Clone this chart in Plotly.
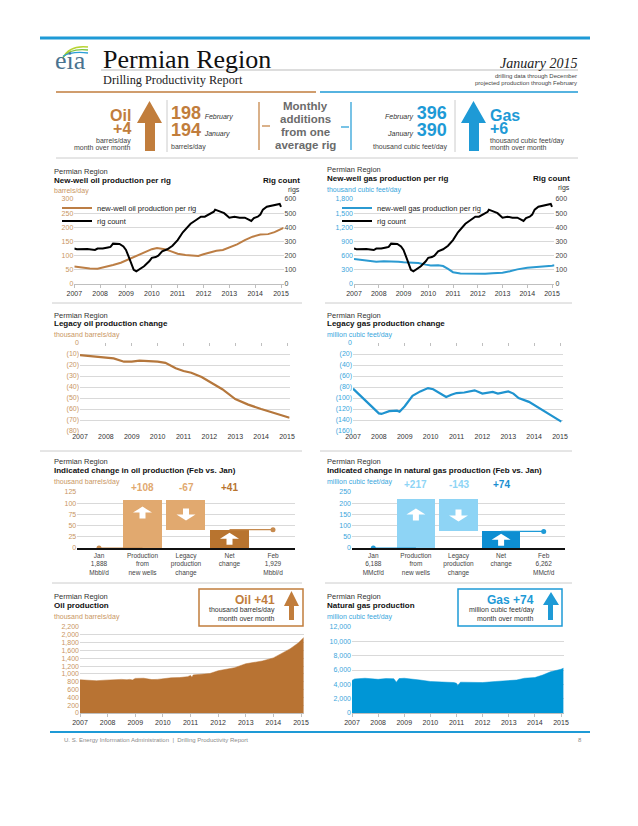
import plotly.graph_objects as go

W, H = 638, 826


def px(x):
    return x / W


def py(y):
    return 1 - y / H


SANS = "Liberation Sans, Arial, sans-serif"
SERIF = "Liberation Serif, Times New Roman, serif"

OIL = "#C17D3C"
OIL_LINE = "#BC7E45"
OIL_LIGHT = "#E1A96F"
OIL_DARK = "#B8742F"
OIL_AREA = "#B87333"
OIL_TXT = "#C9965F"
GAS = "#1E9AD6"
GAS_LINE = "#2B9AD1"
GAS_LIGHT = "#8ED4F5"
GAS_DARK = "#0D8ED2"
GAS_AREA = "#0096D6"
GAS_TXT = "#3AA6DC"
GRID = "#D9D9D9"
AXL = "#BFBFBF"
TXT = "#333333"

# ---------------- data ----------------
YEARS = list(range(2007, 2016))
YEAR_LABELS = [str(y) for y in YEARS]

oil_rig_t = [2007.0, 2007.3, 2007.6, 2007.9, 2008.2, 2008.5, 2008.8, 2009.0, 2009.3, 2009.5,
             2009.75, 2010.0, 2010.2, 2010.5, 2010.75, 2011.0, 2011.3, 2011.6, 2011.8, 2012.0,
             2012.3, 2012.5, 2012.75, 2013.0, 2013.3, 2013.6, 2013.9, 2014.2, 2014.5, 2014.75,
             2015.0, 2015.1]
oil_rig_v = [62, 58, 55, 54, 60, 67, 75, 83, 95, 105,
             115, 123, 127, 123, 115, 107, 102, 99, 99, 105,
             112, 117, 120, 130, 140, 155, 167, 175, 176, 183,
             193, 198]

rig_t = [2007.0, 2007.1, 2007.5, 2007.7, 2007.8, 2007.9, 2008.1, 2008.3, 2008.4, 2008.5,
         2008.75, 2008.9, 2009.0, 2009.1, 2009.3, 2009.4, 2009.5, 2009.7, 2009.9, 2010.0,
         2010.15, 2010.25, 2010.4, 2010.6, 2010.8, 2011.0, 2011.2, 2011.35, 2011.5, 2011.7,
         2011.9, 2012.05, 2012.2, 2012.4, 2012.45, 2012.6, 2012.8, 2013.0, 2013.1, 2013.2,
         2013.4, 2013.6, 2013.75, 2013.85, 2013.95, 2014.1, 2014.2, 2014.3, 2014.45, 2014.6,
         2014.8, 2014.9, 2014.95, 2015.0]
rig_v = [250, 245, 247, 244, 240, 250, 250, 258, 262, 285,
         283, 265, 240, 195, 100, 90, 100, 125, 160, 185,
         190, 200, 230, 245, 270, 310, 365, 395, 425, 450,
         475, 475, 490, 510, 525, 515, 500, 468, 470, 475,
         468, 468, 455, 445, 465, 475, 490, 525, 545, 550,
         555, 560, 565, 545]

gas_rig_t = [2007.0, 2007.3, 2007.6, 2007.9, 2008.2, 2008.5, 2008.8, 2009.0, 2009.3, 2009.6,
             2009.9, 2010.1, 2010.4, 2010.6, 2010.8, 2011.0, 2011.3, 2011.6, 2012.0, 2012.3,
             2012.6, 2013.0, 2013.3, 2013.6, 2014.0, 2014.4, 2014.7, 2015.0, 2015.1]
gas_rig_v = [530, 510, 490, 470, 480, 480, 470, 460, 455, 445,
             410, 390, 395, 380, 320, 250, 225, 220, 205, 215,
             230, 240, 270, 310, 345, 355, 365, 385, 395]

legacy_oil_t = [2007.0, 2007.5, 2008.0, 2008.3, 2008.7, 2009.0, 2009.3, 2009.7, 2010.0, 2010.3,
                2010.7, 2011.0, 2011.3, 2011.7, 2012.0, 2012.5, 2013.0, 2013.5, 2014.0, 2014.5,
                2015.1]
legacy_oil_v = [-11, -12, -13.5, -14, -17, -17, -16, -16.5, -17, -18,
                -23, -25.5, -27, -31, -35, -42, -51, -56, -60, -63.5,
                -68]

legacy_gas_t = [2007.0, 2007.5, 2008.0, 2008.1, 2008.4, 2008.7, 2008.8, 2009.0, 2009.3, 2009.6,
                2009.9, 2010.1, 2010.3, 2010.6, 2010.8, 2011.0, 2011.3, 2011.7, 2012.0, 2012.4,
                2012.6, 2013.0, 2013.2, 2013.4, 2013.8, 2014.0, 2014.5, 2015.05]
legacy_gas_v = [-83, -105, -128, -129, -124, -123, -125, -115, -96, -88,
                -82, -84, -89, -98, -94, -91, -90, -86, -92, -89,
                -92, -88, -92, -100, -107, -113, -128, -143]

wf_labels_oil = ["Jan<br>1,888<br>Mbbl/d", "Production<br>from<br>new wells",
                 "Legacy<br>production<br>change", "Net<br>change", "Feb<br>1,929<br>Mbbl/d"]
wf_labels_gas = ["Jan<br>6,188<br>MMcf/d", "Production<br>from<br>new wells",
                 "Legacy<br>production<br>change", "Net<br>change", "Feb<br>6,262<br>MMcf/d"]
oil_new, oil_legacy = 108, -67
gas_new, gas_legacy = 217, -143

oil_prod_t = [2007.0, 2007.3, 2007.6, 2007.9, 2008.2, 2008.5, 2008.7, 2008.8, 2008.9, 2009.0,
              2009.3, 2009.6, 2009.8, 2010.0, 2010.3, 2010.6, 2010.9, 2011.0, 2011.05, 2011.1,
              2011.4, 2011.7, 2012.0, 2012.3, 2012.6, 2013.0, 2013.3, 2013.6, 2014.0, 2014.3,
              2014.6, 2014.9, 2015.1]
oil_prod_v = [850, 840, 825, 840, 855, 860, 850, 860, 845, 885,
              890, 855, 860, 880, 900, 905, 930, 960, 915, 975,
              990, 1010, 1080, 1120, 1160, 1260, 1290, 1330, 1410, 1520,
              1640, 1790, 1929]

gas_prod_t = [2007.0, 2007.1, 2007.5, 2008.0, 2008.3, 2008.6, 2008.7, 2008.8, 2009.0, 2009.3,
              2009.6, 2010.0, 2010.5, 2010.9, 2011.0, 2011.05, 2011.15, 2011.5, 2012.0, 2012.5,
              2013.0, 2013.3, 2013.6, 2014.0, 2014.3, 2014.6, 2015.0, 2015.1]
gas_prod_v = [4550, 4750, 4850, 4700, 4800, 4780, 4300, 4800, 4850, 4750,
              4600, 4400, 4350, 4250, 4150, 3850, 4300, 4300, 4250, 4400,
              4550, 4600, 4850, 4950, 5300, 5750, 6100, 6262]

HI = 2015.1


def tdom(x2007, x2015, hi=HI):
    per = (x2015 - x2007) / 8
    return [px(x2007), px(x2007 + (hi - 2007) * per)]


def ydom(ybot, ytop):
    return [py(ybot), py(ytop)]


def tf(color=TXT, size=7):
    return dict(family=SANS, size=size, color=color)


fig = go.Figure()

# ---- P1: new-well oil production per rig ----
fig.add_trace(go.Scatter(x=oil_rig_t, y=oil_rig_v, mode="lines", name="new-well oil production per rig",
                         line=dict(color=OIL_LINE, width=2), xaxis="x", yaxis="y", legend="legend"))
fig.add_trace(go.Scatter(x=rig_t, y=rig_v, mode="lines", name="rig count",
                         line=dict(color="black", width=2), xaxis="x", yaxis="y2", legend="legend3"))
# ---- P2: new-well gas production per rig ----
fig.add_trace(go.Scatter(x=gas_rig_t, y=gas_rig_v, mode="lines", name="new-well gas production per rig",
                         line=dict(color=GAS_LINE, width=2), xaxis="x2", yaxis="y3", legend="legend2"))
fig.add_trace(go.Scatter(x=rig_t, y=rig_v, mode="lines", name="rig count",
                         line=dict(color="black", width=2), xaxis="x2", yaxis="y4", legend="legend4"))
# ---- P3/P4 legacy ----
fig.add_trace(go.Scatter(x=legacy_oil_t, y=legacy_oil_v, mode="lines", showlegend=False,
                         line=dict(color="#B5773C", width=2.2), xaxis="x3", yaxis="y5"))
fig.add_trace(go.Scatter(x=legacy_gas_t, y=legacy_gas_v, mode="lines", showlegend=False,
                         line=dict(color="#1F93CF", width=2.2), xaxis="x4", yaxis="y6"))
fig.add_trace(go.Scatter(x=[None], y=[None], showlegend=False, hoverinfo="skip", xaxis="x9", yaxis="y5"))
fig.add_trace(go.Scatter(x=[None], y=[None], showlegend=False, hoverinfo="skip", xaxis="x10", yaxis="y6"))


# ---- P5/P6 waterfalls ----
def waterfall(new, legacy, light, dark, dot, xa, ya):
    net = new + legacy
    fig.add_trace(go.Bar(x=[1, 2, 3], y=[new, legacy, net], base=[0, new, 0], width=0.9,
                         marker=dict(color=[light, light, dark], line=dict(width=0)),
                         showlegend=False, xaxis=xa, yaxis=ya))
    fig.add_trace(go.Scatter(x=[0, 1], y=[0, 0], mode="lines", line=dict(color=dot, width=1.2),
                             showlegend=False, xaxis=xa, yaxis=ya))
    fig.add_trace(go.Scatter(x=[3, 4], y=[net, net], mode="lines", line=dict(color=dot, width=1.2),
                             showlegend=False, xaxis=xa, yaxis=ya))
    fig.add_trace(go.Scatter(x=[0, 4], y=[0, net], mode="markers", marker=dict(color=dot, size=5),
                             showlegend=False, xaxis=xa, yaxis=ya))
    return net


oil_net = waterfall(oil_new, oil_legacy, OIL_LIGHT, OIL_DARK, "#C68A4E", "x5", "y7")
gas_net = waterfall(gas_new, gas_legacy, GAS_LIGHT, GAS_DARK, GAS, "x6", "y8")

# ---- P7/P8 production areas ----
fig.add_trace(go.Scatter(x=oil_prod_t, y=oil_prod_v, mode="lines", fill="tozeroy", fillcolor=OIL_AREA,
                         line=dict(color=OIL_AREA, width=0.5), showlegend=False, xaxis="x7", yaxis="y9"))
fig.add_trace(go.Scatter(x=gas_prod_t, y=gas_prod_v, mode="lines", fill="tozeroy", fillcolor=GAS_AREA,
                         line=dict(color=GAS_AREA, width=0.5), showlegend=False, xaxis="x8", yaxis="y10"))


# ---------------- axes ----------------
def time_x(dom, anchor, ticks="outside", line=True):
    return dict(domain=dom, range=[2007, HI], anchor=anchor, tickvals=YEARS, ticktext=YEAR_LABELS,
                ticks=ticks, ticklen=3, tickcolor=AXL, showline=line, linecolor=AXL, linewidth=1,
                showgrid=False, zeroline=False, tickfont=tf(), fixedrange=True, automargin=False)


def val_y(dom, rng, vals, color, anchor, text=None, fmt=None):
    d = dict(domain=dom, range=rng, anchor=anchor, tickvals=vals, showgrid=True, gridcolor=GRID,
             gridwidth=0.8, zeroline=False, showline=False, ticks="", tickfont=tf(color), fixedrange=True,
             automargin=False)
    if text is not None:
        d["ticktext"] = text
    if fmt:
        d["tickformat"] = fmt
    return d


def paren(vals):
    return ["0" if v == 0 else f"({-v})" for v in vals]


def rig_y(over, anchor):
    return dict(overlaying=over, side="right", anchor=anchor, range=[0, 600], tickvals=list(range(0, 601, 100)),
                showgrid=False, zeroline=False, showline=False, ticks="", tickfont=tf("#444"),
                fixedrange=True, automargin=False)


def top_ticks(over, anchor):
    return dict(overlaying=over, side="top", anchor=anchor, range=[2007, HI], tickvals=YEARS,
                ticks="inside", ticklen=3, tickcolor=AXL, showticklabels=False, showgrid=False,
                showline=False, zeroline=False, fixedrange=True, automargin=False)


lay = {}
lay["xaxis"] = time_x(tdom(74.3, 281), "y")
lay["yaxis"] = val_y(ydom(284, 199), [0, 300], list(range(0, 301, 50)), OIL_TXT, "x")
lay["yaxis2"] = rig_y("y", "x")
lay["xaxis2"] = time_x(tdom(354, 552), "y3")
lay["yaxis3"] = val_y(ydom(284, 199), [0, 1800], list(range(0, 1801, 300)), GAS_TXT, "x2", fmt=",d")
lay["yaxis4"] = rig_y("y3", "x2")

lo_vals = list(range(0, -81, -10))
lay["xaxis3"] = time_x(tdom(80, 287), "y5", ticks="", line=False)
lay["yaxis5"] = val_y(ydom(431, 343), [-80, 0], lo_vals, OIL_TXT, "x3", text=paren(lo_vals))
lay["xaxis9"] = top_ticks("x3", "y5")
lg_vals = list(range(0, -161, -20))
lay["xaxis4"] = time_x(tdom(353, 560), "y6", ticks="", line=False)
lay["yaxis6"] = val_y(ydom(431, 343), [-160, 0], lg_vals, GAS_TXT, "x4", text=paren(lg_vals))
lay["xaxis10"] = top_ticks("x4", "y6")


def wf_x(dom, anchor, labels):
    return dict(domain=dom, range=[-0.5, 4.5], anchor=anchor, tickvals=list(range(5)), ticktext=labels,
                ticks="", showline=True, linecolor="#111", linewidth=2, showgrid=False, zeroline=False,
                tickfont=tf("#444", 6.5), fixedrange=True, automargin=False)


lay["xaxis5"] = wf_x([px(77.25), px(294.75)], "y7", wf_labels_oil)
lay["yaxis7"] = val_y(ydom(548, 492), [0, 125], list(range(0, 126, 25)), OIL_TXT, "x5")
lay["xaxis6"] = wf_x([px(352), px(565)], "y8", wf_labels_gas)
lay["yaxis8"] = val_y(ydom(548, 492), [0, 250], list(range(0, 251, 50)), GAS_TXT, "x6")

lay["xaxis7"] = time_x(tdom(80, 301), "y9")
lay["yaxis9"] = val_y(ydom(713, 627), [0, 2200], list(range(0, 2201, 200)), OIL_TXT, "x7", fmt=",d")
lay["xaxis8"] = time_x(tdom(352, 561), "y10")
lay["yaxis10"] = val_y(ydom(713, 627), [0, 12000], list(range(0, 12001, 2000)), GAS_TXT, "x8", fmt=",d")

# ---------------- annotations ----------------
ann = []


def txt(x, y, s, size=7, color=TXT, bold=False, xanchor="left", family=SANS, italic=False, align=None):
    if bold:
        s = f"<b>{s}</b>"
    if italic:
        s = f"<i>{s}</i>"
    ann.append(dict(x=px(x), y=py(y), xref="paper", yref="paper", text=s, showarrow=False,
                    xanchor=xanchor, yanchor="middle", align=align or xanchor,
                    font=dict(size=size, color=color, family=family)))


def sp(s, size, bold=False, italic=False, color=None):
    if bold:
        s = f"<b>{s}</b>"
    if italic:
        s = f"<i>{s}</i>"
    style = f"font-size:{size}px"
    if color:
        style += f";color:{color}"
    return f'<span style="{style}">{s}</span>'


# header
txt(53, 61, "eia", 26, "#4A7390", family=SERIF)
txt(101, 60, "Permian Region", 26, "#111", family=SERIF)
txt(101, 80, "Drilling Productivity Report", 12.3, "#222", family=SERIF)
txt(579, 63, "January 2015", 14, "#222", family=SERIF, italic=True, xanchor="right")
txt(579, 76, "drilling data through December", 6, "#444", xanchor="right")
txt(579, 83, "projected production through February", 6, "#444", xanchor="right")

# stacked header figures: base font size sets the line pitch, spans set the glyph size
txt(133, 121.5, sp("Oil", 16, bold=True) + "<br>" + sp("+4", 16, bold=True), 10, OIL, xanchor="right")
txt(133, 141, "barrels/day", 7, "#444", xanchor="right")
txt(133, 148, "month over month", 7, "#444", xanchor="right")
txt(169, 121.5, sp("198", 18, bold=True) + " " + sp("February", 7, italic=True, color="#333") + "<br>"
    + sp("194", 18, bold=True) + " " + sp("January", 7, italic=True, color="#333"), 13, OIL)
txt(169, 147, "barrels/day", 7, "#444")
for yy, line in zip([106, 119, 132, 145], ["Monthly", "additions", "from one", "average rig"]):
    txt(305, yy, line, 11.5, "#6B6B6B", bold=True, xanchor="center")
txt(449, 121.5, sp("February", 7, italic=True, color="#333") + " " + sp("396", 18, bold=True) + "<br>"
    + sp("January", 7, italic=True, color="#333") + " " + sp("390", 18, bold=True), 13, GAS, xanchor="right")
txt(371, 147, "thousand cubic feet/day", 7, "#444")
txt(488, 121.5, sp("Gas", 16, bold=True) + "<br>" + sp("+6", 16, bold=True), 10, GAS)
txt(488, 141, "thousand cubic feet/day", 7, "#444")
txt(488, 148, "month over month", 7, "#444")

# panel titles
txt(52, 171, "Permian Region", 7.5, "#333")
txt(52, 180, "New-well oil production per rig", 8, "#111", bold=True)
txt(52, 191, "barrels/day", 7, OIL_TXT)
txt(302, 180, "Rig count", 8, "#111", bold=True, xanchor="right")
txt(302, 190, "rigs", 7, "#333", xanchor="right")

txt(325, 169, "Permian Region", 7.5, "#333")
txt(325, 178, "New-well gas production per rig", 8, "#111", bold=True)
txt(325, 190, "thousand cubic feet/day", 7, GAS_TXT)
txt(572, 178, "Rig count", 8, "#111", bold=True, xanchor="right")
txt(572, 188, "rigs", 7, "#333", xanchor="right")

txt(52, 315, "Permian Region", 7.5, "#333")
txt(52, 323, "Legacy oil production change", 8, "#111", bold=True)
txt(52, 335, "thousand barrels/day", 7, OIL_TXT)
txt(325, 315, "Permian Region", 7.5, "#333")
txt(325, 323, "Legacy gas production change", 8, "#111", bold=True)
txt(325, 335, "million cubic feet/day", 7, GAS_TXT)

txt(52, 462, "Permian Region", 7.5, "#333")
txt(52, 471, "Indicated change in oil production (Feb vs. Jan)", 8, "#111", bold=True)
txt(52, 482, "thousand barrels/day", 7, OIL_TXT)
txt(325, 462, "Permian Region", 7.5, "#333")
txt(325, 471, "Indicated change in natural gas production (Feb vs. Jan)", 8, "#111", bold=True)
txt(325, 482, "million cubic feet/day", 7, GAS_TXT)

txt(52, 596, "Permian Region", 7.5, "#333")
txt(52, 605, "Oil production", 8, "#111", bold=True)
txt(52, 617, "thousand barrels/day", 7, OIL_TXT)
txt(325, 596, "Permian Region", 7.5, "#333")
txt(325, 605, "Natural gas production", 8, "#111", bold=True)
txt(325, 617, "million cubic feet/day", 7, GAS_TXT)


# waterfall value labels
def wf_labels(xa, new, legacy, net, light, dark, ypix):
    for i, (v, c) in enumerate([(new, light), (legacy, light), (net, dark)]):
        s = f"+{v}" if v > 0 else f"{v}"
        ann.append(dict(x=i + 1, y=py(ypix), xref=xa, yref="paper", text=f"<b>{s}</b>", showarrow=False,
                        xanchor="center", yanchor="middle", font=dict(size=10, color=c, family=SANS)))


wf_labels("x5", oil_new, oil_legacy, oil_net, OIL_LIGHT, OIL_DARK, 487)
wf_labels("x6", gas_new, gas_legacy, gas_net, GAS_LIGHT, "#1B8ED0", 484)

# boxes text
txt(277, 600, "Oil +41", 12, OIL, bold=True, xanchor="right")
txt(277, 610, "thousand barrels/day", 7, "#333", xanchor="right")
txt(277, 618, "month over month", 7, "#333", xanchor="right")
txt(536, 600, "Gas +74", 12, GAS, bold=True, xanchor="right")
txt(536, 610, "million cubic feet/day", 7, "#333", xanchor="right")
txt(536, 618, "month over month", 7, "#333", xanchor="right")

# footer
txt(62, 740, "U. S. Energy Information Administration  |  Drilling Productivity Report", 6, "#8A8A8A")
txt(584, 740, "8", 6, "#8A8A8A", xanchor="right")

# ---------------- shapes ----------------
shp = []


def hline(x0, x1, y, color, width=1):
    shp.append(dict(type="line", xref="paper", yref="paper", x0=px(x0), x1=px(x1), y0=py(y), y1=py(y),
                    line=dict(color=color, width=width)))


def vline(x, y0, y1, color, width=1):
    shp.append(dict(type="line", xref="paper", yref="paper", x0=px(x), x1=px(x), y0=py(y0), y1=py(y1),
                    line=dict(color=color, width=width)))


def arrow_paper(xl, xr, ytop, yneck, sl, sr, ybot, color):
    pts = [(xl, yneck), ((xl + xr) / 2, ytop), (xr, yneck), (sr, yneck), (sr, ybot), (sl, ybot), (sl, yneck)]
    path = "M " + " L ".join(f"{px(a):.5f},{py(b):.5f}" for a, b in pts) + " Z"
    shp.append(dict(type="path", xref="paper", yref="paper", path=path, fillcolor=color,
                    line=dict(width=0)))


hline(40, 590, 38, GAS, 3)
hline(101, 578, 70, "#BBBBBB", 1)
hline(56, 316, 92, OIL, 1.5)
hline(320, 578, 92, GAS, 1.5)
hline(56, 578, 158, "#CCCCCC", 1)
arrow_paper(137, 162, 101, 123, 145, 155, 151, OIL)
arrow_paper(461, 486, 101, 123, 469, 479, 151, GAS)
vline(167, 100, 152, "#CCCCCC")
vline(455, 100, 152, "#CCCCCC")
vline(259, 102, 150, OIL, 1.2)
hline(262, 270, 126, OIL, 1.2)
vline(351, 102, 150, GAS, 1.2)
hline(341, 349, 127, GAS, 1.2)

# logo swooshes
for (c, dy) in [("#B8D432", 0), ("#7DC242", 3), ("#2A9FD8", 6)]:
    shp.append(dict(type="path", xref="paper", yref="paper",
                    path=f"M {px(63):.5f},{py(58 - dy * 0.3):.5f} Q {px(69 + dy * 0.5):.5f},{py(45 + dy):.5f} {px(88):.5f},{py(47 + dy):.5f}",
                    line=dict(color=c, width=1.3)))

# panel separators
hline(52, 302, 303, "#CCCCCC")
hline(325, 572, 303, "#CCCCCC")
hline(40, 302, 451, "#CCCCCC")
hline(320, 572, 451, "#CCCCCC")
hline(52, 302, 583, "#CCCCCC")
hline(325, 572, 583, "#CCCCCC")

# boxes
shp.append(dict(type="rect", xref="paper", yref="paper", x0=px(199), x1=px(303), y0=py(626), y1=py(589),
                line=dict(color=OIL, width=1.5), fillcolor="white", layer="above"))
shp.append(dict(type="rect", xref="paper", yref="paper", x0=px(458), x1=px(562), y0=py(626), y1=py(589),
                line=dict(color=GAS, width=1.5), fillcolor="white", layer="above"))
arrow_paper(284, 299, 591, 606, 289, 294, 620, OIL)
arrow_paper(543, 559, 592, 605, 548, 553, 620, GAS)

# footer line
hline(50, 590, 732, GAS, 2)


# white arrows inside waterfall bars (pixel-sized, anchored at the bars)
def bar_arrow(xa, ya, xc, yv, dy, up):
    s = 1 if up else -1
    pts = [(-9.5, 0), (0, 6), (9.5, 0), (3, 0), (3, -6), (-3, -6), (-3, 0)]
    pts = [(a, s * b + dy) for a, b in pts]
    path = "M " + " L ".join(f"{a:.1f},{b:.1f}" for a, b in pts) + " Z"
    shp.append(dict(type="path", xref=xa, yref=ya, xsizemode="pixel", ysizemode="pixel",
                    xanchor=xc, yanchor=yv, path=path, fillcolor="white", line=dict(width=0)))


bar_arrow("x5", "y7", 1, oil_new, -13, True)
bar_arrow("x5", "y7", 2, oil_new + oil_legacy / 2, 0, False)
bar_arrow("x5", "y7", 3, oil_net / 2, 0, True)
bar_arrow("x6", "y8", 1, gas_new, -15, True)
bar_arrow("x6", "y8", 2, gas_new + gas_legacy / 2, 0, False)
bar_arrow("x6", "y8", 3, gas_net / 2, 0, True)


def leg(x, y):
    return dict(x=px(x), y=py(y), xanchor="left", yanchor="middle", bgcolor="rgba(0,0,0,0)",
                font=dict(family=SANS, size=7.5, color="#222"), itemwidth=30, borderwidth=0)


fig.update_layout(
    template="none",
    width=W, height=H, margin=dict(l=0, r=0, t=0, b=0, pad=0, autoexpand=False),
    paper_bgcolor="white", plot_bgcolor="rgba(0,0,0,0)",
    font=dict(family=SANS, size=7, color=TXT),
    annotations=ann, shapes=shp,
    legend=leg(57, 208), legend3=leg(57, 221),
    legend2=leg(337, 208), legend4=leg(337, 221),
    bargap=0, showlegend=True,
    **lay,
)

fig.write_html("out.html", config={"displayModeBar": False},
               post_script="document.body.style.margin='0px';document.body.style.padding='0px';")
